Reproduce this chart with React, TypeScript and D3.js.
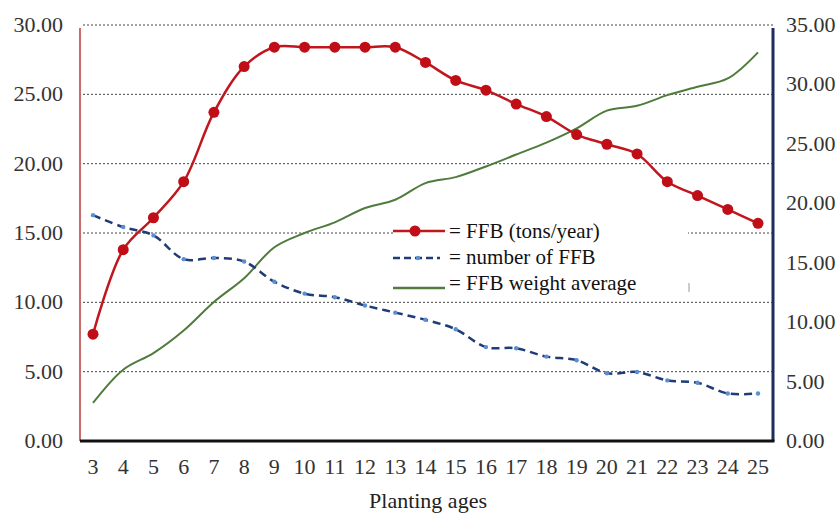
import React from "react";
import * as d3 from "d3";

const ages = [3, 4, 5, 6, 7, 8, 9, 10, 11, 12, 13, 14, 15, 16, 17, 18, 19, 20, 21, 22, 23, 24, 25];
const ffbTons = [7.7, 13.8, 16.1, 18.7, 23.7, 27.0, 28.4, 28.4, 28.4, 28.4, 28.4, 27.3, 26.0, 25.3, 24.3, 23.4, 22.1, 21.4, 20.7, 18.7, 17.7, 16.7, 15.7];
const ffbCount = [19.0, 18.0, 17.3, 15.3, 15.4, 15.1, 13.4, 12.4, 12.1, 11.4, 10.8, 10.2, 9.4, 7.9, 7.8, 7.1, 6.8, 5.7, 5.8, 5.1, 4.9, 4.0, 4.0];
const ffbWeight = [3.2, 6.0, 7.4, 9.3, 11.7, 13.7, 16.3, 17.5, 18.4, 19.6, 20.3, 21.7, 22.2, 23.1, 24.1, 25.1, 26.3, 27.8, 28.2, 29.1, 29.8, 30.5, 32.7];
const leftTicks = [0, 5, 10, 15, 20, 25, 30];
const rightTicks = [0, 5, 10, 15, 20, 25, 30, 35];
const legendLabels = ["= FFB (tons/year)", "= number of FFB", "= FFB weight average"];

const W = 840;
const H = 517;
const left = 80;
const right = 773;
const top = 25;
const bottom = 441;
const font = "'Liberation Serif', 'Times New Roman', serif";

export default function App() {
  const x = d3.scalePoint<number>().domain(ages).range([93, 758]);
  const yL = d3.scaleLinear().domain([0, 30]).range([bottom, top]);
  const yR = d3.scaleLinear().domain([0, 35]).range([bottom, top]);

  const lineL = d3.line<number>().x((_, i) => x(ages[i])!).y((d) => yL(d)).curve(d3.curveCatmullRom);
  const lineR = d3.line<number>().x((_, i) => x(ages[i])!).y((d) => yR(d)).curve(d3.curveCatmullRom);

  return (
    <svg width={W} height={H} style={{ position: "absolute", left: 0, top: 0, background: "#fff" }}>
      {/* gridlines */}
      {leftTicks.slice(1).map((t) => (
        <line key={t} x1={left + 3} x2={right} y1={yL(t)} y2={yL(t)} stroke="#444" strokeWidth={1} strokeDasharray="2,2" />
      ))}

      {/* left ticks */}
      {leftTicks.map((t) => (
        <text key={t} x={63} y={yL(t) + 7} textAnchor="end" fontFamily={font} fontSize={22} fill="#333">
          {t.toFixed(2)}
        </text>
      ))}
      {/* right ticks */}
      {rightTicks.map((t) => (
        <text key={t} x={786} y={yR(t) + 7} textAnchor="start" fontFamily={font} fontSize={22} fill="#333">
          {t.toFixed(2)}
        </text>
      ))}
      {/* x ticks */}
      {ages.map((a) => (
        <text key={a} x={x(a)} y={474} textAnchor="middle" fontFamily={font} fontSize={22} fill="#333">
          {a}
        </text>
      ))}
      <text x={428} y={508} textAnchor="middle" fontFamily={font} fontSize={22} fill="#222">
        Planting ages
      </text>

      {/* series */}
      <path d={lineR(ffbWeight)!} fill="none" stroke="#4f7b3c" strokeWidth={2} />
      <path d={lineR(ffbCount)!} fill="none" stroke="#1f3c78" strokeWidth={2.5} strokeDasharray="8,5" />
      {ffbCount.map((d, i) => (
        <circle key={i} cx={x(ages[i])} cy={yR(d)} r={2.2} fill="#5b8fd0" />
      ))}
      <path d={lineL(ffbTons)!} fill="none" stroke="#c0161d" strokeWidth={2.5} />
      {ffbTons.map((d, i) => (
        <circle key={i} cx={x(ages[i])} cy={yL(d)} r={5.5} fill="#c00d16" />
      ))}

      {/* legend */}
      <rect x={393} y={222} width={295} height={74} fill="#fff" />
      <line x1={393} x2={445} y1={231} y2={231} stroke="#c0161d" strokeWidth={2.5} />
      <circle cx={415} cy={231} r={5.5} fill="#c00d16" />
      <line x1={393} x2={440} y1={258} y2={258} stroke="#1f3c78" strokeWidth={2.5} strokeDasharray="7,4" />
      <circle cx={418} cy={258} r={2.2} fill="#5b8fd0" />
      <line x1={393} x2={445} y1={288} y2={288} stroke="#4f7b3c" strokeWidth={2.5} />
      {legendLabels.map((l, i) => (
        <text key={l} x={449} y={238 + i * 26} fontFamily={font} fontSize={21} fill="#111">
          {l}
        </text>
      ))}
      <line x1={689} x2={689} y1={283} y2={292} stroke="#999" strokeWidth={1} />

      {/* axes */}
      <line x1={left} x2={left} y1={top + 3} y2={bottom} stroke="#b83a3a" strokeWidth={1.5} />
      <line x1={right} x2={right} y1={top + 3} y2={bottom} stroke="#1f2d5c" strokeWidth={3} />
      <line x1={left} x2={right + 1.5} y1={bottom} y2={bottom} stroke="#111" strokeWidth={3} />
    </svg>
  );
}
